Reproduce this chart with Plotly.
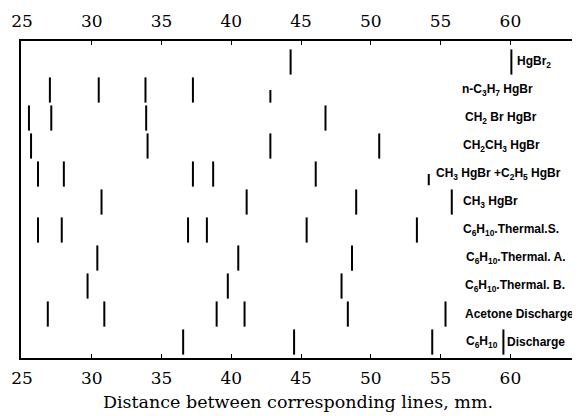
import plotly.graph_objects as go

# Row labels (top to bottom); "|" marks where a spectral line splits the label
labels = [
    "HgBr<sub>2</sub>",
    "n-C<sub>3</sub>H<sub>7</sub> HgBr",
    "CH<sub>2</sub> Br HgBr",
    "CH<sub>2</sub>CH<sub>3</sub> HgBr",
    "CH<sub>3</sub> HgBr +C<sub>2</sub>H<sub>5</sub> HgBr",
    "CH<sub>3</sub> HgBr",
    "C<sub>6</sub>H<sub>10</sub>.Thermal.S.",
    "C<sub>6</sub>H<sub>10</sub>.Thermal. A.",
    "C<sub>6</sub>H<sub>10</sub>.Thermal. B.",
    "Acetone Discharge",
    "C<sub>6</sub>H<sub>10</sub>|Discharge",
]

# Line positions (mm) for each row
hgbr2 = [44.25, 60.07]
n_c3h7hgbr = [27.0, 30.5, 33.85, 37.25, 42.8]
ch2brhgbr = [25.5, 27.1, 33.9, 46.75]
ch3ch2hgbr = [25.65, 34.0, 42.8, 50.6]
ch3_plus_c2h5 = [26.15, 28.0, 37.25, 38.7, 46.05, 54.15]
ch3hgbr = [30.7, 41.1, 48.95, 55.8]
thermal_s = [26.15, 27.85, 36.9, 38.25, 45.4, 53.3]
thermal_a = [30.4, 40.5, 48.65]
thermal_b = [29.7, 39.75, 47.9]
acetone_discharge = [26.85, 30.9, 38.95, 40.95, 48.35, 55.35]
c6h10_discharge = [36.55, 44.5, 54.4, 59.5]

rows = [hgbr2, n_c3h7hgbr, ch2brhgbr, ch3ch2hgbr, ch3_plus_c2h5, ch3hgbr,
        thermal_s, thermal_a, thermal_b, acetone_discharge, c6h10_discharge]

tick_vals = [25, 30, 35, 40, 45, 50, 55, 60]
x_title = "Distance between corresponding lines, mm."

# label anchor positions (data x)
label_x = [60.35, 56.36, 56.57, 56.43, 54.5, 56.43, 56.43, 56.64, 56.57, 56.57, 59.5]

HALF = 0.45
short = {(1, 42.8): (0.0, 0.45), (4, 54.15): (0.0, 0.4)}

fig = go.Figure()
xs, ys = [], []
for i, vals in enumerate(rows):
    for v in vals:
        lo, hi = short.get((i, v), (-HALF, HALF))
        xs += [v, v, None]
        ys += [i + lo, i + hi, None]
fig.add_trace(go.Scatter(x=xs, y=ys, mode="lines",
                         line=dict(color="black", width=2),
                         showlegend=False, hoverinfo="skip"))
# invisible trace on top axis
fig.add_trace(go.Scatter(x=[30], y=[0], xaxis="x2", mode="markers",
                         marker=dict(opacity=0), showlegend=False, hoverinfo="skip"))

lab_font = dict(family="Liberation Sans", size=12, color="black", weight="bold")
for i, (t, lx) in enumerate(zip(labels, label_x)):
    if "|" in t:
        left, right = t.split("|")
        fig.add_annotation(x=lx, y=i, text=left, showarrow=False, xanchor="right",
                           yanchor="middle", xshift=-3, font=lab_font)
        fig.add_annotation(x=lx, y=i, text=right, showarrow=False, xanchor="left",
                           yanchor="middle", xshift=2, font=lab_font)
    else:
        fig.add_annotation(x=lx, y=i, text=t, showarrow=False, xanchor="left",
                           yanchor="middle", font=lab_font)

rng = [24.93, 64.63]
serif = dict(family="DejaVu Serif", size=17, color="black")
# the page body adds an 8px offset, so the figure is 8px smaller and margins compensate
fig.update_layout(
    width=572, height=408,
    margin=dict(l=12, r=3, t=32, b=58),
    paper_bgcolor="white", plot_bgcolor="white",
    xaxis=dict(range=rng, tickvals=tick_vals, ticks="inside", ticklen=4,
               tickcolor="black", showgrid=False, zeroline=False,
               showline=True, linecolor="black", linewidth=2, mirror=True,
               tickfont=serif, ticklabelstandoff=4,
               title=dict(text=x_title, font=dict(family="DejaVu Serif", size=17.5, color="black"),
                          standoff=8)),
    xaxis2=dict(range=rng, tickvals=tick_vals, ticks="inside", ticklen=4,
                tickcolor="black", showgrid=False, zeroline=False,
                overlaying="x", side="top", tickfont=serif, ticklabelstandoff=10),
    yaxis=dict(range=[10.57, -0.75], showticklabels=False, ticks="",
               showgrid=False, zeroline=False, showline=True,
               linecolor="black", linewidth=2, mirror=True),
)
fig.write_html("out.html")
